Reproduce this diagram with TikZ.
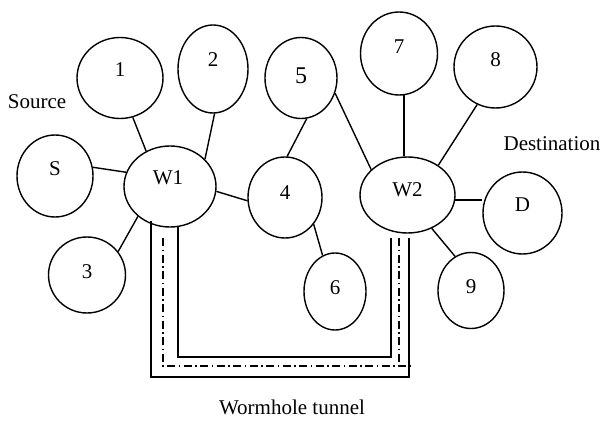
\documentclass[tikz,border=0pt]{standalone}
\usepackage{fontspec}
\setmainfont{Liberation Serif}
\usetikzlibrary{shapes.geometric}

\tikzset{
  nd/.style 2 args={draw, ellipse, line width=1.4pt, minimum width=#1, minimum height=#2, inner sep=0pt},
  edge/.style={line width=1.4pt},
  tunnelline/.style={line width=1.4pt},
  tunnelaxis/.style={line width=1.3pt, dash pattern=on 8pt off 3.5pt on 1.5pt off 3.5pt},
  caption/.style={inner sep=0pt}
}

\begin{document}
\begin{tikzpicture}[x=1pt, y=-1pt, font=\fontsize{21}{25}\selectfont]
\useasboundingbox (0,0) rectangle (603,425);

% network nodes
\node[nd={86pt}{81pt}, label={[yshift=8pt]center:1}] (n1) at (120,78) {};
\node[nd={70pt}{88pt}, label={[yshift=9pt]center:2}] (n2) at (213,69) {};
\node[nd={72pt}{81pt}, label={[yshift=2pt,font=\fontsize{24}{27}\selectfont]center:5}] (n5) at (301,78) {};
\node[nd={77pt}{83pt}, label={[yshift=7pt]center:7}] (n7) at (399,53.5) {};
\node[nd={83pt}{82pt}, label={[yshift=7pt]center:8}] (n8) at (495.5,67) {};
\node[nd={76pt}{82pt}, label={[yshift=7pt]center:S}] (s) at (55,176) {};
\node[nd={92pt}{81pt}, label={[yshift=8.5pt,xshift=-2pt]center:W1}] (w1) at (170,186.5) {};
\node[nd={74pt}{81pt}, label={[yshift=5pt]center:4}] (n4) at (285,197.5) {};
\node[nd={95pt}{76pt}, label={[yshift=5pt]center:W2}] (w2) at (407.5,195) {};
\node[nd={79pt}{82pt}, label={[yshift=8.5pt]center:D}] (d) at (522.5,213) {};
\node[nd={77pt}{76pt}, label={[yshift=3pt]center:3}] (n3) at (87,275) {};
\node[nd={62pt}{77pt}, label={[yshift=4pt]center:6}] (n6) at (335,291.5) {};
\node[nd={66pt}{76pt}, label={[yshift=4pt]center:9}] (n9) at (471,290.5) {};

% links
\draw[edge] (n1.-72) -- (w1.124);
\draw[edge] (n2.-88) -- (w1.38);
\draw[edge] (s.13) -- (w1.162);
\draw[edge] (w1.-6) -- (n4.-175);
\draw[edge] (w1.-137) -- (n3.37);
\draw[edge] (n5.-82) -- (n4.87);
\draw[edge] (n5.-24) -- (w2.145);
\draw[edge] (n7.-83) -- (n7.-83 |- w2.north);
\draw[edge] (n8.-116) -- (w2.44);
\draw[edge] (w2.-6) -- (w2.-6 -| d.west);
\draw[edge] (w2.-54) -- (n9.115);
\draw[edge] (n4.-43) -- (n6.109);

% wormhole tunnel between W1 and W2
\draw[tunnelline] (151,221) -- (151,377) -- (409,377) -- (409,238);
\draw[tunnelline] (178,227) -- (178,357) -- (391,357) -- (391,238);
\draw[tunnelaxis] (163,238) -- (163,366) -- (413,366);
\draw[tunnelaxis] (399,238) -- (399,366);

% captions
\node[caption] (src) at (37,102) {Source};
\node[caption] (dst) at (552,144) {Destination};
\node[caption] (wt) at (292,407) {Wormhole tunnel};
\end{tikzpicture}
\end{document}
